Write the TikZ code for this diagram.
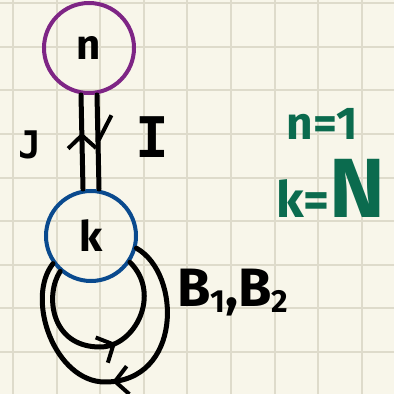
\documentclass[tikz,border=0pt]{standalone}
\usepackage{fontspec}
\setmainfont{Fira Sans}
\setmonofont{DejaVu Sans Mono}
\usetikzlibrary{arrows.meta,decorations.markings}
\definecolor{PadPaper}{HTML}{F8F6EA}
\definecolor{PadGrid}{HTML}{DEDBCB}
\definecolor{PenPurple}{HTML}{7E2585}
\definecolor{PenBlue}{HTML}{0A4A8E}
\definecolor{PenGreen}{HTML}{0B6B4E}
\newcommand{\lowidx}[1]{\raisebox{-6pt}{\fontsize{32}{32}\selectfont #1}}
\tikzset{midarrow/.style={postaction={decorate},decoration={markings,
  mark=at position #1 with {\arrow{>}}}}}
\tikzset{midharpoon/.style={postaction={decorate},decoration={markings,
  mark=at position #1 with {\arrow{Straight Barb[left,length=26pt,width=28pt,line width=4pt]}}}}}

\begin{document}
\begin{tikzpicture}[x=1pt,y=1pt,>={Straight Barb[length=13pt,width=28pt,line width=4pt]}]
  \tikzstyle{state}=[circle,draw,line width=4pt,minimum size=90pt,inner sep=0pt,
    font=\fontsize{42}{42}\selectfont\bfseries]
  \tikzstyle{pen}=[line width=5pt,line cap=round,line join=round]
  \tikzstyle{lbl}=[inner sep=0pt,font=\bfseries]
  % paper
  \fill[PadPaper] (0,0) rectangle (394,394);
  \useasboundingbox (0,0) rectangle (394,394);
  \foreach \i in {0,...,8}
    \draw[PadGrid,line width=2pt] (13+43.6*\i,0) -- (13+43.6*\i,394);
  \foreach \j in {0,...,8}
    \draw[PadGrid,line width=2pt] (0,390.7-43.6*\j) -- (394,390.7-43.6*\j);
  % states
  \node[state,draw=PenPurple] (n) at (89,346) {n};
  \node[state,draw=PenBlue] (k) at (91,158) {k};
  % hopping lines
  \draw[pen,midarrow=0.6] ([xshift=-8pt]k.north) -- ([xshift=-8pt]n.south);
  \draw[pen,midharpoon=0.58] ([xshift=8pt]n.south) -- ([xshift=8pt]k.north);
  % self loops
  \draw[pen,midarrow=0.56] (k.229) .. controls (45,100) and (50,47) .. (100,47)
    .. controls (135,47) and (162,100) .. (k.-34);
  \draw[pen,midarrow=0.52] (k.-15) .. controls (182,120) and (182,12) .. (105,12)
    .. controls (55,12) and (25,95) .. (k.-144);
  % labels
  \node[lbl,font=\ttfamily\bfseries\fontsize{38}{38}\selectfont] (lJ) at (30,249) {J};
  \node[lbl,font=\ttfamily\bfseries\fontsize{56}{56}\selectfont] (lI) at (152,257) {I};
  \node[lbl,font=\bfseries\fontsize{54}{54}\selectfont] (lB) at (233,101)
    {B\lowidx{1},B\lowidx{2}};
  \node[lbl,text=PenGreen,font=\bfseries\fontsize{46}{46}\selectfont] (lone) at (322,270) {n=1};
  \node[lbl,text=PenGreen,anchor=base] (lN) at (331,176)
    {\fontsize{50}{50}\selectfont k=\fontsize{84}{84}\selectfont N};
\end{tikzpicture}
\end{document}
